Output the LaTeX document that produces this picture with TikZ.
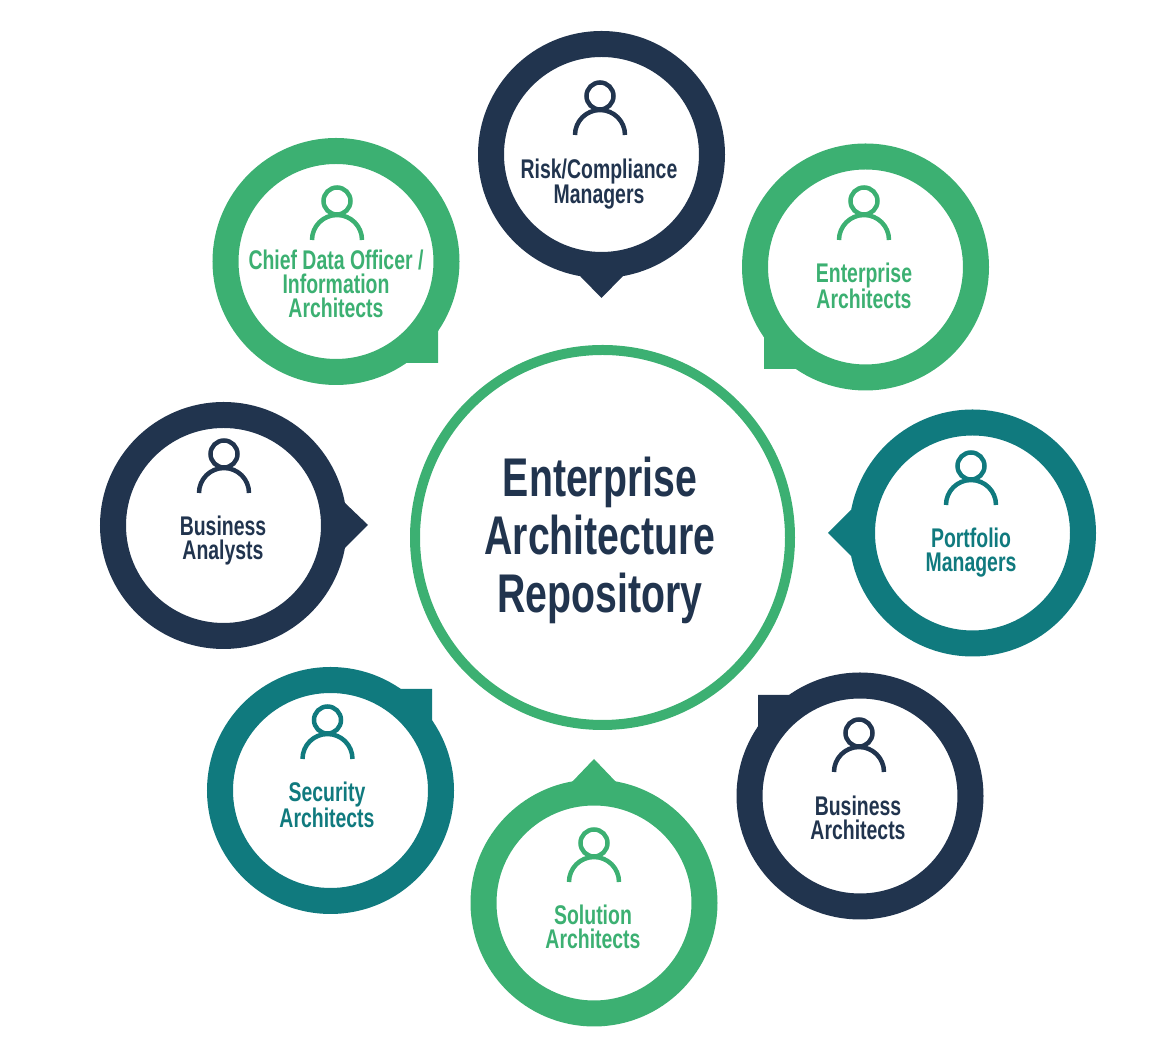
\documentclass[tikz,border=0pt]{standalone}
\usepackage{fontspec}
\setmainfont[FakeStretch=0.72]{Liberation Sans}
\usetikzlibrary{positioning}
\definecolor{navyring} {HTML}{21344E}
\definecolor{greenring}{HTML}{3CB072}
\definecolor{tealring} {HTML}{107A7E}
\begin{document}
\begin{tikzpicture}[
  x=1pt, y=1pt,
  ring/.style ={circle,draw,line width=26pt,minimum size=221pt,inner sep=0pt},
  hub/.style  ={circle,draw=greenring,line width=10pt,minimum size=375pt,inner sep=0pt},
  lbl/.style  ={align=center,font=\fontsize{27}{24}\selectfont\bfseries},
  hublbl/.style={align=center,color=navyring,
                font=\fontsize{54.5}{58}\selectfont\bfseries},
  person/.pic ={
    \draw[line width=4.5pt] (0,0) circle[radius=13.5pt];
    \draw[line width=4.5pt] (-25,-39) arc[start angle=180,end angle=0,radius=25pt];
  }
]
\useasboundingbox (0,0) rectangle (1176,1046);
%% Centre
\node[hub] (repo) at (602.5,508.5) {};
\node[hublbl] (repotext) at (600,505.5) {Enterprise\\Architecture\\Repository};
%% Top: Risk/Compliance (tail pointing down)
\node[ring,navyring] (risk) at (601.5,891.5) {};
\fill[navyring] (580,770) -- (601.5,748) -- (623,770) -- cycle;
\pic[navyring] (riskicon) at (600,950) {person};
\node[lbl,navyring] (risktext) at (599,862) {Risk/Compliance\\Managers};
%% Upper left: Chief Data Officer (square corner)
\node[ring,greenring] (chief) at (336,784.5) {};
\fill[greenring] (438,716) -- (438,683) -- (405,683) -- cycle;
\pic[greenring] (chieficon) at (337,845) {person};
\node[lbl,greenring] (chieftext) at (336,762) {Chief Data Officer /\\Information\\Architects};
%% Upper right: Enterprise Architects (square corner)
\node[ring,greenring] (enterprise) at (865.5,779) {};
\fill[greenring] (764,711) -- (764,677) -- (797,677) -- cycle;
\pic[greenring] (enterpriseicon) at (864,845) {person};
\node[lbl,greenring] (enterprisetext) at (864,760) {Enterprise\\Architects};
%% Right: Portfolio Managers (tail pointing left)
\node[ring,tealring] (portfolio) at (972.5,513) {};
\fill[tealring] (851,536) -- (828,513) -- (851,490) -- cycle;
\pic[tealring] (portfolioicon) at (971,580) {person};
\node[lbl,tealring] (portfoliotext) at (971,493) {Portfolio\\Managers};
%% Left: Business Analysts (tail pointing right)
\node[ring,navyring] (analysts) at (223.5,520.5) {};
\fill[navyring] (345,543) -- (368,521) -- (345,498) -- cycle;
\pic[navyring] (analystsicon) at (224,592) {person};
\node[lbl,navyring] (analyststext) at (223,505) {Business\\Analysts};
%% Lower left: Security Architects (square corner)
\node[ring,tealring] (security) at (330.5,255.5) {};
\fill[tealring] (400,357) -- (432,357) -- (432,325) -- cycle;
\pic[tealring] (securityicon) at (327.5,326) {person};
\node[lbl,tealring] (securitytext) at (327,241) {Security\\Architects};
%% Bottom: Solution Architects (tail pointing up)
\node[ring,greenring] (solution) at (594,143) {};
\fill[greenring] (572,264) -- (594,287) -- (616,264) -- cycle;
\pic[greenring] (solutionicon) at (594,203) {person};
\node[lbl,greenring] (solutiontext) at (593,119) {Solution\\Architects};
%% Lower right: Business Architects (square corner)
\node[ring,navyring] (bizarch) at (860,250) {};
\fill[navyring] (758,319) -- (758,351) -- (791,351) -- cycle;
\pic[navyring] (bizarchicon) at (859,313) {person};
\node[lbl,navyring] (bizarchtext) at (858,228) {Business\\Architects};
\end{tikzpicture}
\end{document}
